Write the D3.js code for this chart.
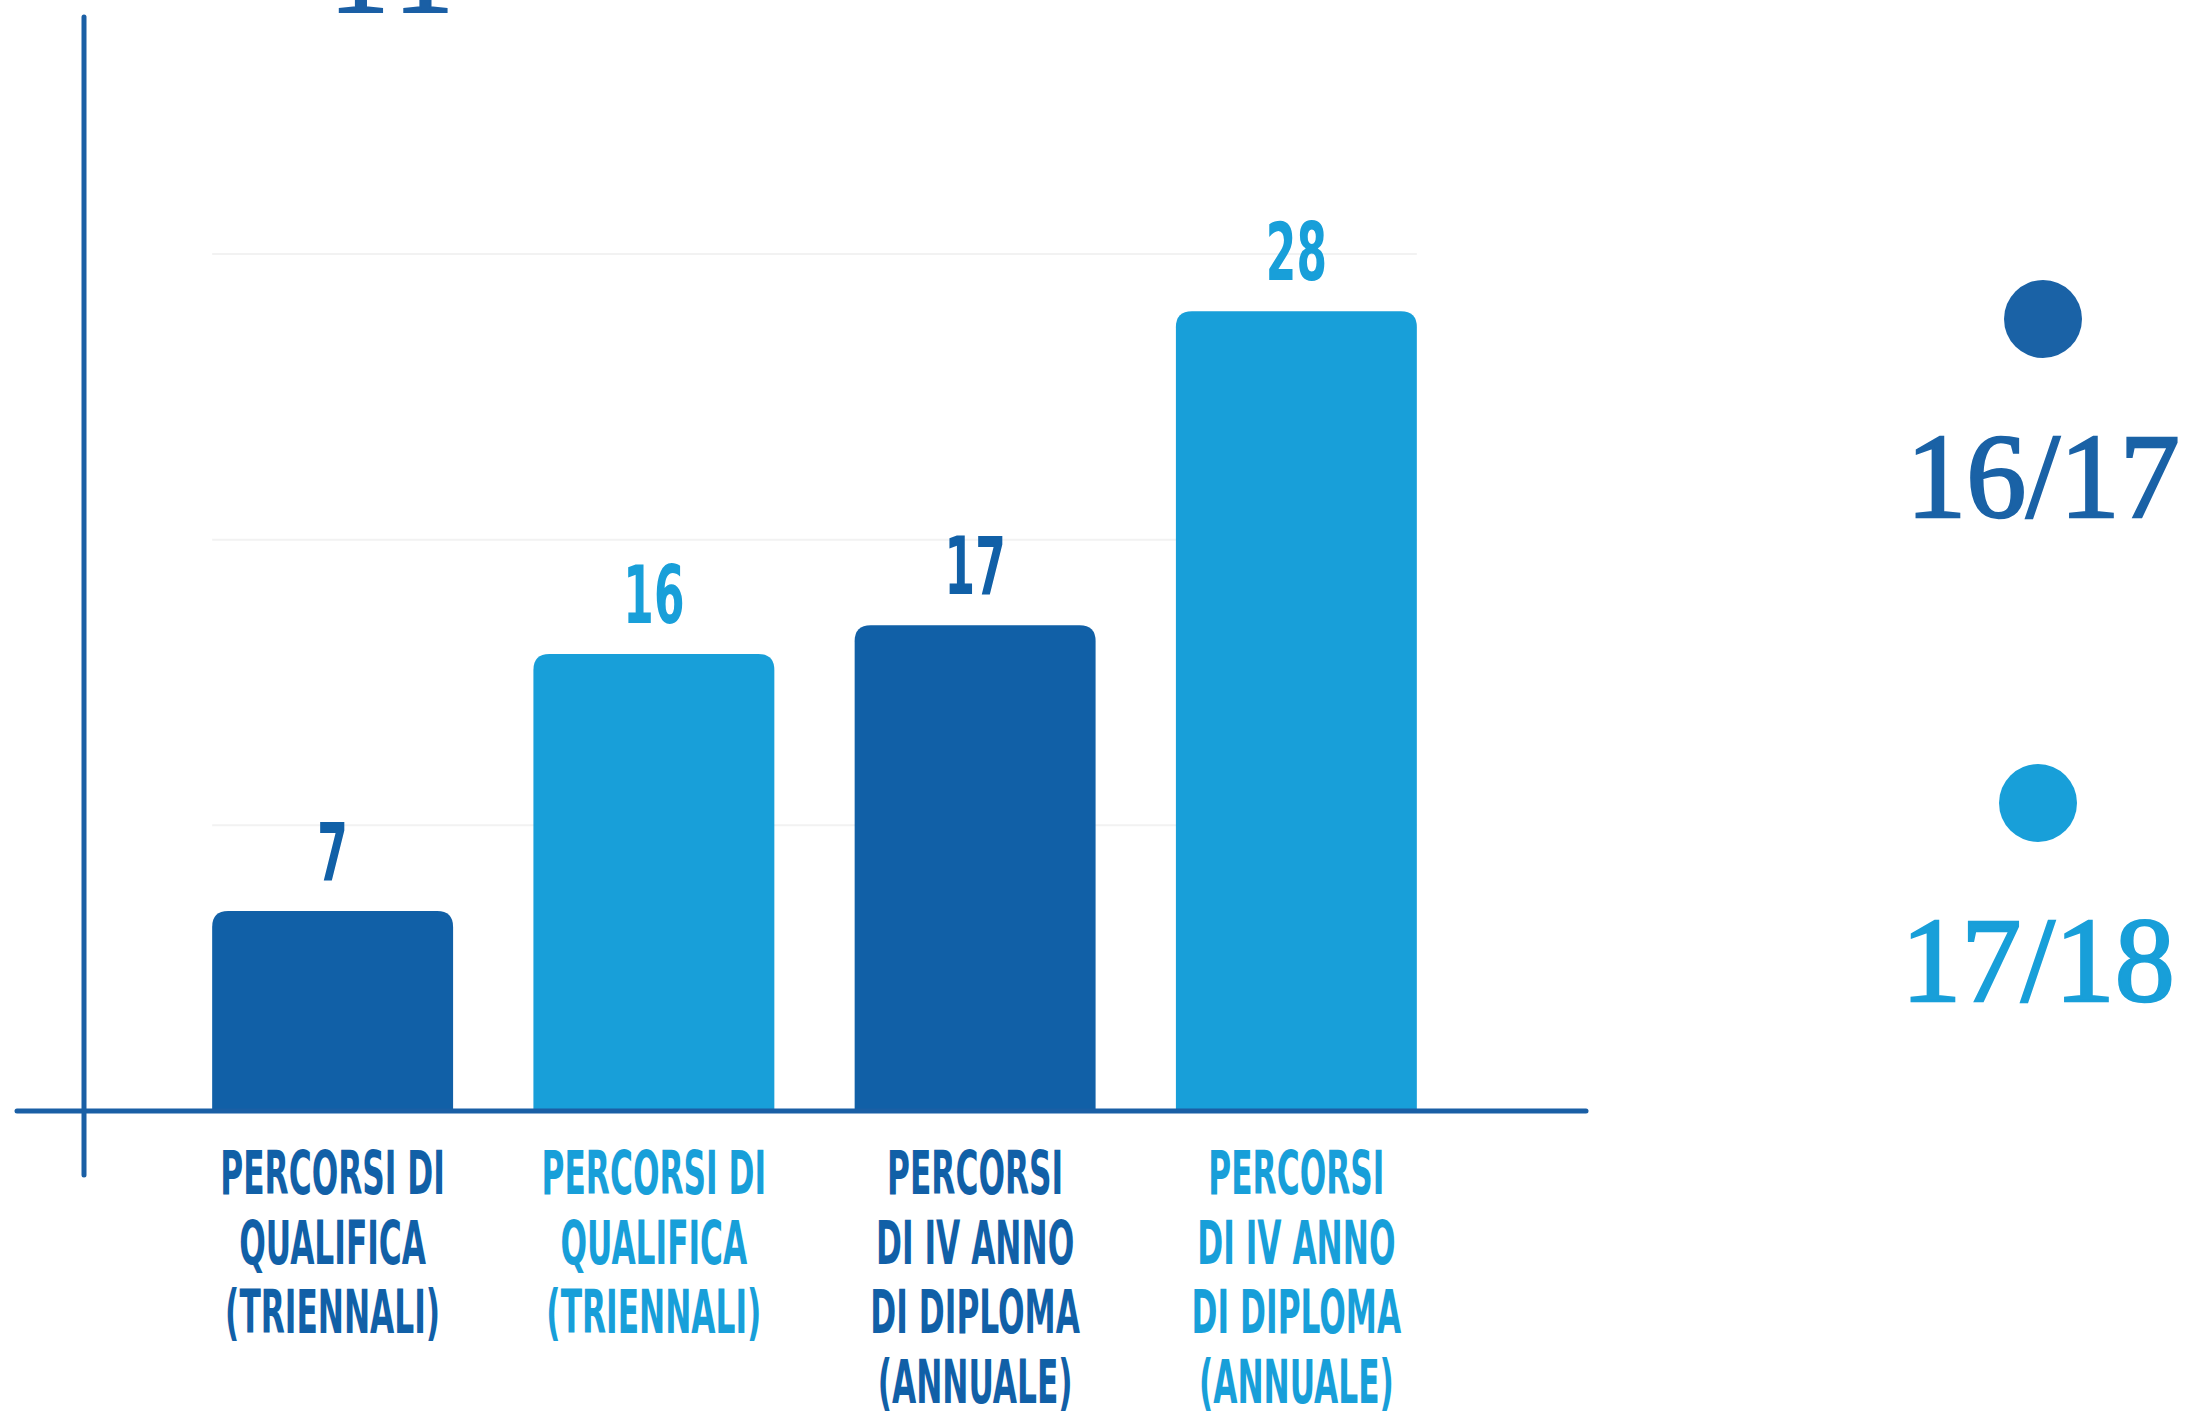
<!DOCTYPE html>
<html>
<head>
<meta charset="utf-8">
<script src="https://cdn.jsdelivr.net/npm/d3@7"></script>
<style>
body{margin:0;background:#fff;}
svg{display:block;}
.cond{font-family:"Liberation Sans Narrow","DejaVu Sans Condensed","Roboto",sans-serif;font-weight:bold;}
.serif{font-family:"Liberation Serif","DejaVu Serif",serif;}
</style>
</head>
<body>
<svg></svg>
<script>
var width=2187;
var height=1419;

// data
var years=["16/17","17/18"];
var courseLabels=[
	["PERCORSI DI","QUALIFICA","(TRIENNALI)"],
	["PERCORSI","DI IV ANNO","DI DIPLOMA","(ANNUALE)"]
];
var values1617=[7,17];
var values1718=[16,28];
var gridTicks=[10,20,30];
var topTitle="11";

var colors={"16/17":"#1160a7","17/18":"#189fd9"};
var legendColors={"16/17":"#1a62a6","17/18":"#189fd9"};

// one bar per course and year, in the order of the picture
var bars=[];
courseLabels.forEach(function(lines,i){
	bars.push({key:i+"-16/17",year:"16/17",value:values1617[i],lines:lines});
	bars.push({key:i+"-17/18",year:"17/18",value:values1718[i],lines:lines});
});

var svg=d3.select("svg")
	.attr("width",width)
	.attr("height",height);

var scalex=d3.scaleBand()
	.domain(bars.map(d=>d.key))
	.range([172,1457])
	.paddingInner(0.25)
	.paddingOuter(0.125);

var scaley=d3.scaleLinear()
	.domain([0,30])
	.range([1111,254]);

// faint grid
svg.append("g")
	.selectAll("line")
	.data(gridTicks)
	.enter()
	.append("line")
	.attr("x1",scalex.range()[0]+scalex.step()*0.125)
	.attr("x2",scalex.range()[1]-scalex.step()*0.125)
	.attr("y1",d=>scaley(d))
	.attr("y2",d=>scaley(d))
	.attr("stroke","#f2f2f2")
	.attr("stroke-width",2);

function topRounded(x,y,w,h,r)
{
	return "M"+x+","+(y+h)+
		"V"+(y+r)+
		"Q"+x+","+y+" "+(x+r)+","+y+
		"H"+(x+w-r)+
		"Q"+(x+w)+","+y+" "+(x+w)+","+(y+r)+
		"V"+(y+h)+"Z";
}

svg.append("g")
	.selectAll("path")
	.data(bars)
	.enter()
	.append("path")
	.attr("d",d=>topRounded(scalex(d.key),scaley(d.value),scalex.bandwidth(),scaley(0)-scaley(d.value),16))
	.attr("fill",d=>colors[d.year]);

// value labels
svg.append("g")
	.selectAll("text")
	.data(bars)
	.enter()
	.append("text")
	.classed("cond",true)
	.attr("transform",d=>"translate("+(scalex(d.key)+scalex.bandwidth()/2)+","+(scaley(d.value)-31)+") scale(0.61,1)")
	.attr("text-anchor","middle")
	.attr("font-size",80)
	.attr("fill",d=>colors[d.year])
	.text(d=>d.value);

// category labels
var cat=svg.append("g")
	.selectAll("g")
	.data(bars)
	.enter()
	.append("g")
	.attr("transform",d=>"translate("+(scalex(d.key)+scalex.bandwidth()/2)+",0)");

cat.selectAll("text")
	.data(d=>d.lines.map(l=>({text:l,year:d.year})))
	.enter()
	.append("text")
	.classed("cond",true)
	.attr("transform",(d,i)=>"translate(0,"+(1194+i*69.7)+") scale(0.57,1)")
	.attr("text-anchor","middle")
	.attr("font-size",61)
	.attr("fill",d=>colors[d.year])
	.text(d=>d.text);

// axes
svg.append("line")
	.attr("x1",17).attr("x2",1586)
	.attr("y1",scaley(0)).attr("y2",scaley(0))
	.attr("stroke","#1a5fa5")
	.attr("stroke-width",5)
	.attr("stroke-linecap","round");

svg.append("line")
	.attr("x1",84).attr("x2",84)
	.attr("y1",17).attr("y2",1175)
	.attr("stroke","#1a5fa5")
	.attr("stroke-width",5)
	.attr("stroke-linecap","round");

// title, cut by the top edge as in the source image
svg.append("text")
	.classed("serif",true)
	.attr("x",396)
	.attr("y",12)
	.attr("text-anchor","middle")
	.attr("font-size",120)
	.attr("letter-spacing",9)
	.attr("fill","#1a5fa5")
	.attr("stroke","#1a5fa5")
	.attr("stroke-width",2)
	.text(topTitle);

// legend
var legendY=d3.scalePoint()
	.domain(years)
	.range([319,803]);

var legend=svg.append("g")
	.selectAll("g")
	.data(years)
	.enter()
	.append("g")
	.attr("transform",d=>"translate("+(d=="16/17"?2043:2038)+","+legendY(d)+")");

legend.append("circle")
	.attr("r",39)
	.attr("fill",d=>legendColors[d]);

legend.append("text")
	.classed("serif",true)
	.attr("y",198)
	.attr("text-anchor","middle")
	.attr("font-size",120)
	.attr("fill",d=>legendColors[d])
	.attr("stroke",d=>legendColors[d])
	.attr("stroke-width",2.5)
	.text(d=>d);
</script>
</body>
</html>
